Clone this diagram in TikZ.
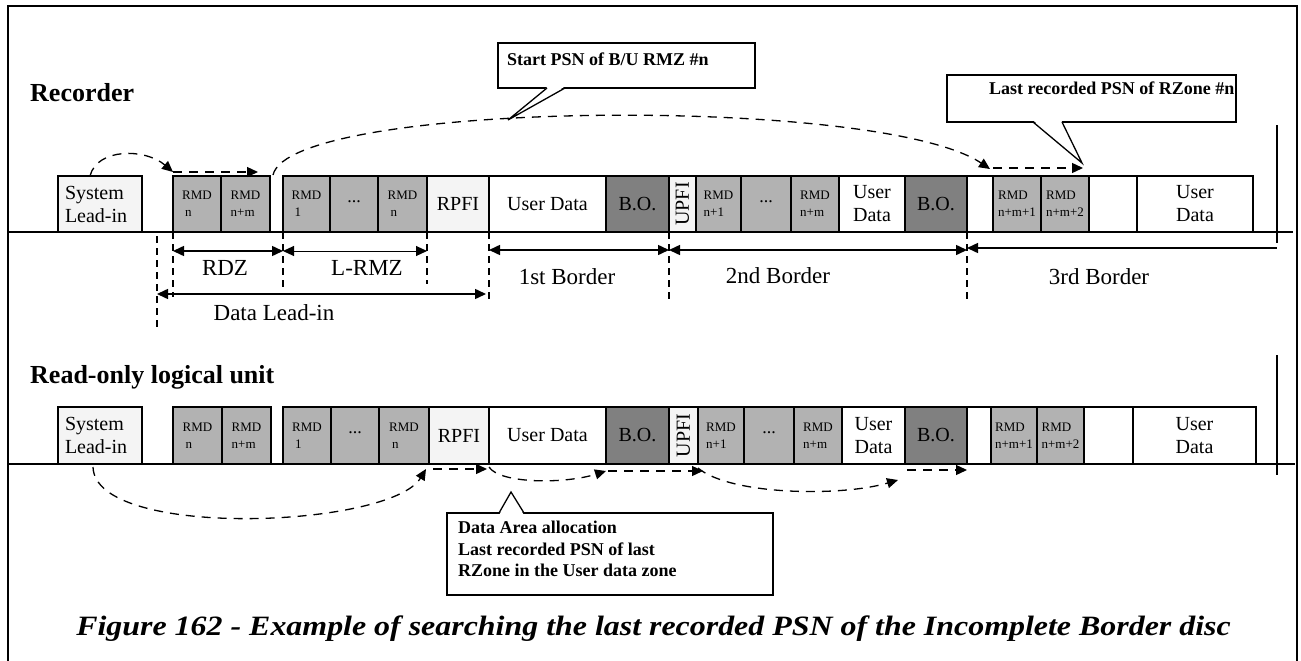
\documentclass[tikz,border=0pt]{standalone}
\usepackage{fontspec}
\setmainfont{Liberation Serif}
\usepackage{graphicx}
\usetikzlibrary{arrows.meta,calc}
\definecolor{lightc}{HTML}{F4F4F4}
\definecolor{rmdc}{HTML}{B2B2B2}
\definecolor{boc}{HTML}{808080}
\newcommand\dcell[5][]{\node[cellbox,#1,minimum width={(#4-#3)*1pt},minimum height=\rowh pt,anchor=north west] (#2) at (#3,\rowtop) {#5};}
\tikzset{
  cellbox/.style={draw, line width=1.3pt, inner sep=0pt, outer sep=0pt, align=center, font=\fontsize{20}{23}\selectfont},
  light/.style={fill=lightc},
  rmd/.style={fill=rmdc, font=\fontsize{13}{17}\selectfont, align=left},
  dots/.style={fill=rmdc, font=\fontsize{18}{20}\selectfont},
  bo/.style={fill=boc},
  dimline/.style={line width=1.5pt, {Triangle[length=11pt,width=10pt]}-{Triangle[length=11pt,width=10pt]}},
  guide/.style={dash pattern=on 7pt off 5pt, line width=1.3pt},
  flow/.style={line width=1.3pt, dash pattern=on 9pt off 7pt, -{Triangle[length=11pt,width=10pt]}},
  dimlabel/.style={font=\fontsize{23}{26}\selectfont, inner sep=0pt},
  title/.style={font=\fontsize{26}{30}\selectfont\bfseries, anchor=base west, inner sep=0pt},
  callout/.style={draw, line width=1.3pt, fill=white, inner sep=0pt, outer sep=0pt, anchor=north west},
  callouttext/.style={font=\fontsize{18}{21.5}\selectfont\bfseries, align=left, inner sep=0pt},
}
\begin{document}
\begin{tikzpicture}[x=1pt,y=-1pt]
\useasboundingbox (0,0) rectangle (1301,661);
% frame
\draw[line width=2pt] (8,661) -- (8,6) -- (1297,6) -- (1297,661);
% titles
\node[title] (rec) at (30,101) {Recorder};
\node[title] (rol) at (30,383) {Read-only logical unit};
% ---------------- row 1
\def\rowtop{176}\def\rowh{56}
\dcell[light,align=left,text width=70pt]{a1}{58}{142}{System\\Lead-in}
\dcell[rmd]{a2}{173}{221}{RMD\\\hspace*{3pt}n}
\dcell[rmd]{a3}{221}{270}{RMD\\n+m}
\dcell[rmd]{a4}{283}{330}{RMD\\\hspace*{3pt}1}
\dcell[dots]{a5}{330}{378}{\raisebox{5pt}{...}}
\dcell[rmd]{a6}{378}{427}{RMD\\\hspace*{3pt}n}
\dcell[light]{a7}{427}{489}{RPFI}
\dcell{a8}{489}{606}{User Data}
\dcell[bo]{a9}{606}{669}{B.O.}
\dcell[light]{a10}{669}{696}{\rotatebox{90}{UPFI}}
\dcell[rmd]{a11}{696}{741}{RMD\\n+1}
\dcell[dots]{a12}{741}{791}{\raisebox{5pt}{...}}
\dcell[rmd]{a13}{791}{839}{RMD\\n+m}
\dcell[align=left]{a14}{839}{905}{User\\Data}
\dcell[bo]{a15}{905}{967}{B.O.}
\dcell{a16}{967}{993}{}
\dcell[rmd]{a17}{993}{1041}{RMD\\n+m+1}
\dcell[rmd]{a18}{1041}{1089}{RMD\\n+m+2}
\dcell{a19}{1089}{1137}{}
\dcell{a20}{1137}{1253}{User\\Data}
\draw[line width=1.8pt] (8,232) -- (1293,232);
\draw[line width=1.5pt] (1277,125) -- (1277,243);
% ---------------- row 2
\def\rowtop{407}\def\rowh{57}
\dcell[light,align=left,text width=70pt]{b1}{58}{142}{System\\Lead-in}
\dcell[rmd]{b2}{173}{222}{RMD\\\hspace*{3pt}n}
\dcell[rmd]{b3}{222}{271}{RMD\\n+m}
\dcell[rmd]{b4}{283}{331}{RMD\\\hspace*{3pt}1}
\dcell[dots]{b5}{331}{379}{\raisebox{5pt}{...}}
\dcell[rmd]{b6}{379}{429}{RMD\\\hspace*{3pt}n}
\dcell[light]{b7}{429}{489}{RPFI}
\dcell{b8}{489}{606}{User Data}
\dcell[bo]{b9}{606}{669}{B.O.}
\dcell[light]{b10}{669}{698}{\rotatebox{90}{UPFI}}
\dcell[rmd]{b11}{698}{744}{RMD\\n+1}
\dcell[dots]{b12}{744}{794}{\raisebox{5pt}{...}}
\dcell[rmd]{b13}{794}{842}{RMD\\n+m}
\dcell[align=left]{b14}{842}{905}{User\\Data}
\dcell[bo]{b15}{905}{967}{B.O.}
\dcell{b16}{967}{991}{}
\dcell[rmd]{b17}{991}{1037}{RMD\\n+m+1}
\dcell[rmd]{b18}{1037}{1084}{RMD\\n+m+2}
\dcell{b19}{1084}{1133}{}
\dcell{b20}{1133}{1256}{User\\Data}
\draw[line width=1.8pt] (8,464) -- (1295,464);
\draw[line width=1.5pt] (1277,355) -- (1277,475);
% ---------------- row 1 dimensions
\coordinate (g0) at (157,236);
\draw[guide] (g0) -- (157,330);
\draw[guide] (a2.south west) -- ++(0,65);
\draw[guide] (a4.south west) -- ++(0,58);
\draw[guide] (a6.south east) -- ++(0,52);
\draw[guide] (a8.south west) -- ++(0,68);
\draw[guide] (a9.south east) -- ++(0,68);
\draw[guide] (a15.south east) -- ++(0,68);
\draw[dimline] ($(a2.south west)+(0,19)$) -- ($(a4.south west)+(0,19)$);
\draw[dimline,line width=1pt] ($(a4.south west)+(0,19)$) -- ($(a6.south east)+(0,19)$);
\draw[dimline] ($(g0)+(0,58)$) -- ($(a8.south west)+(-3,62)$);
\draw[dimline] ($(a8.south west)+(0,18)$) -- ($(a9.south east)+(0,18)$);
\draw[dimline] ($(a9.south east)+(0,18)$) -- ($(a15.south east)+(0,18)$);
\coordinate (e3) at (1277,248);
\draw[line width=1.5pt, {Triangle[length=11pt,width=10pt]}-] ($(a15.south east)+(0,16)$) -- (e3);
\node[dimlabel] (lrdz) at (225,268) {RDZ};
\node[dimlabel] (llrmz) at (367,268) {L-RMZ};
\node[dimlabel] (ldli) at (274,313) {Data Lead-in};
\node[dimlabel] (lb1) at (567,277) {1st Border};
\node[dimlabel] (lb2) at (778,276) {2nd Border};
\node[dimlabel] (lb3) at (1099,277) {3rd Border};
% ---------------- row 1 flows
\draw[flow] ($(a1.north)+(-10,0)$) .. controls (97,148) and (145,148) .. ($(a2.north west)+(0,-4)$);
\draw[flow] ($(a2.north west)+(0,-4)$) -- ($(a3.north east)+(-12,-4)$);
\draw[flow] ($(a3.north east)+(3,-1)$) .. controls (290,100) and (880,95) .. ($(a17.north west)+(-3,-7)$);
\draw[flow] ($(a17.north west)+(0,-8)$) -- ($(a18.north east)+(-6,-8)$);
% ---------------- row 2 flows
\draw[flow] ($(b1.south)+(-7,3)$) .. controls (95,540) and (390,528) .. ($(b6.south east)+(-3,5)$);
\draw[flow] ($(b7.south west)+(4,5)$) -- ($(b7.south east)+(-2,5)$);
\draw[flow] ($(b8.south west)+(0,3)$) .. controls (500,484) and (565,484) .. ($(b9.south west)+(0,7)$);
\draw[flow] ($(b9.south west)+(2,7)$) -- ($(b11.south west)+(5,7)$);
\draw[flow] ($(b11.south west)+(0,4)$) .. controls (730,495) and (840,497) .. ($(b15.south west)+(-7,16)$);
\draw[flow] ($(b15.south west)+(2,6)$) -- ($(b15.south east)+(0,6)$);
% ---------------- callouts
\node[callout, minimum width=257pt, minimum height=45pt] (c1) at (498,43) {};
\coordinate (t1) at (508,120);
\fill[white] ($(c1.south west)+(49.6,-1.2)$) -- (t1) -- ($(c1.south west)+(66.4,-1.2)$) -- cycle;
\draw[line width=1.3pt] ($(c1.south west)+(49,0)$) -- (t1) -- ($(c1.south west)+(67,0)$);
\node[callouttext, anchor=base west] (c1t) at ($(c1.north west)+(9,23)$) {Start PSN of B/U RMZ \#n};

\node[callout, minimum width=289pt, minimum height=47pt] (c2) at (947,75) {};
\coordinate (t2) at (1082,163);
\fill[white] ($(c2.south west)+(86.6,-1.2)$) -- (t2) -- ($(c2.south west)+(114.4,-1.2)$) -- cycle;
\draw[line width=1.3pt] ($(c2.south west)+(86,0)$) -- (t2) -- ($(c2.south west)+(115,0)$);
\node[callouttext, anchor=base west] (c2t) at ($(c2.north west)+(42,19)$) {Last recorded PSN of RZone \#n};

\node[callout, minimum width=326pt, minimum height=82pt] (c3) at (447,513) {};
\coordinate (t3) at (511,492);
\fill[white] ($(c3.north west)+(52.6,1.2)$) -- (t3) -- ($(c3.north west)+(76.4,1.2)$) -- cycle;
\draw[line width=1.3pt] ($(c3.north west)+(52,0)$) -- (t3) -- ($(c3.north west)+(77,0)$);
\node[callouttext, anchor=north west] (c3t) at ($(c3.north west)+(11,8)$) {Data Area allocation\\Last recorded PSN of last\\RZone in the User data zone};
% ---------------- caption
\node[font=\fontsize{28}{30}\selectfont\bfseries\itshape, anchor=base, inner sep=0pt] (cap) at (653.5,635) {\scalebox{1.14}[1]{Figure 162 - Example of searching the last recorded PSN of the Incomplete Border disc}};
\end{tikzpicture}
\end{document}
